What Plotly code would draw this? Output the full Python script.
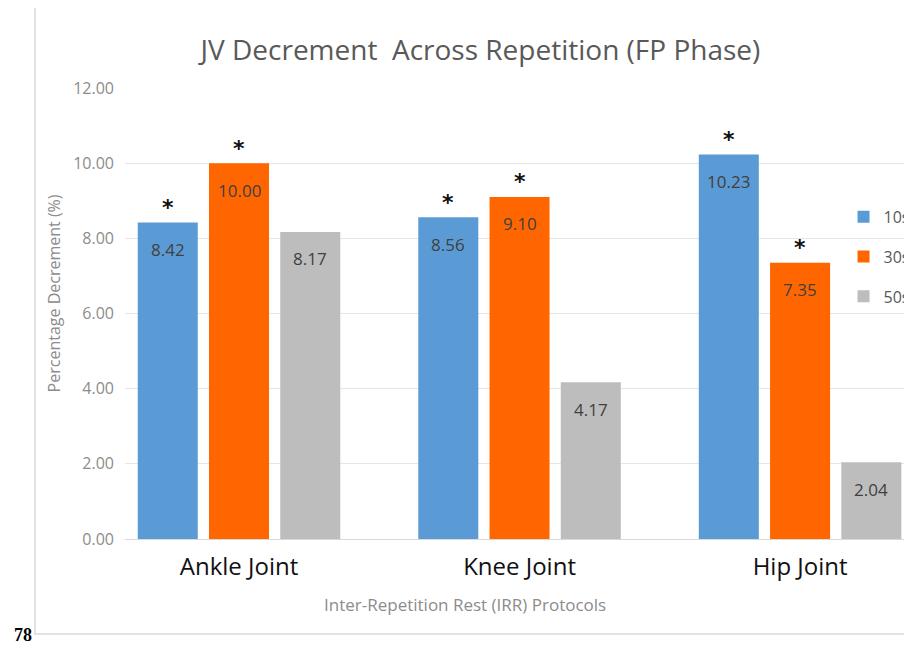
import plotly.graph_objects as go

categories = ["Ankle Joint", "Knee Joint", "Hip Joint"]
series_names = ["10s", "30s", "50s"]
values_10 = [8.42, 8.56, 10.23]
values_30 = [10.00, 9.10, 7.35]
values_50 = [8.17, 4.17, 2.04]
significant_10 = [True, True, True]
significant_30 = [True, True, True]
significant_50 = [False, False, False]
y_ticks = [0, 2, 4, 6, 8, 10, 12]

colors = ["#5B9BD5", "#FF6600", "#BDBDBD"]
offsets = [-0.254, 0.0, 0.254]
bar_width = 0.214

all_values = [values_10, values_30, values_50]
all_sig = [significant_10, significant_30, significant_50]

fig = go.Figure()
annotations = []
for k, (name, vals, sig) in enumerate(zip(series_names, all_values, all_sig)):
    xs = [i + offsets[k] for i in range(len(categories))]
    fig.add_trace(go.Bar(
        x=xs, y=vals, width=bar_width, name=name,
        marker=dict(color=colors[k], line=dict(width=0)),
        legendgroup=name, hoverinfo="y",
    ))
    for x, v, s in zip(xs, vals, sig):
        annotations.append(dict(
            x=x, y=v, xref="x", yref="y", text=f"{v:.2f}", showarrow=False,
            yshift=-27, font=dict(family="Open Sans", size=17, color="#404040"),
        ))
        if s:
            annotations.append(dict(
                x=x, y=v, xref="x", yref="y", text="<b>*</b>", showarrow=False,
                yshift=15, font=dict(family="DejaVu Sans", size=22, color="#111111"),
            ))

# page number outside the chart frame
annotations.append(dict(
    x=-0.1436, y=-0.213, xref="paper", yref="paper", text="<b>78</b>",
    showarrow=False, xanchor="left", yanchor="middle",
    font=dict(family="Liberation Serif", size=18, color="#000000"),
))
# axis titles
annotations.append(dict(
    x=0.432, y=-0.146, xref="paper", yref="paper",
    text="Inter-Repetition Rest (IRR) Protocols", showarrow=False,
    xanchor="center", yanchor="middle",
    font=dict(family="Open Sans", size=17, color="#8C8C8C"),
))
annotations.append(dict(
    x=-0.090, y=0.545, xref="paper", yref="paper",
    text="Percentage Decrement (%)", showarrow=False, textangle=-90,
    xanchor="center", yanchor="middle",
    font=dict(family="Open Sans", size=16, color="#8C8C8C"),
))

fig.update_layout(
    width=912, height=637,
    paper_bgcolor="white", plot_bgcolor="white",
    margin=dict(l=117, r=8, t=80, b=106, autoexpand=False),
    title=dict(text="JV Decrement  Across Repetition (FP Phase)", x=0.518, xanchor="center",
               y=0.934, yanchor="middle",
               font=dict(family="Open Sans", size=28, color="#595959")),
    barmode="overlay",
    showlegend=True,
    legend=dict(x=0.913, y=0.752, xanchor="left", yanchor="top",
                bgcolor="rgba(0,0,0,0)", tracegroupgap=16,
                font=dict(family="Open Sans", size=16, color="#595959")),
    xaxis=dict(
        range=[-0.4064, 2.399], tickmode="array", tickvals=list(range(len(categories))),
        ticktext=categories, showgrid=False, zeroline=False,
        showline=True, linecolor="#D9D9D9", linewidth=1, ticks="",
        ticklabelstandoff=6,
        tickfont=dict(family="Open Sans", size=24, color="#111111"),
    ),
    yaxis=dict(
        range=[0, 12], tickvals=y_ticks, tickformat=".2f",
        showgrid=True, gridcolor="#E6E6E6", gridwidth=1, zeroline=False,
        showline=False, ticks="", ticklabelstandoff=10,
        tickfont=dict(family="Open Sans", size=16, color="#8C8C8C"),
    ),
    annotations=annotations,
    shapes=[dict(type="rect", xref="paper", yref="paper",
                 x0=-0.1144, x1=1.2, y0=-0.2106, y1=1.18,
                 line=dict(color="#D9D9D9", width=1.5), fillcolor="rgba(0,0,0,0)",
                 layer="below")],
)

fig.write_html("out.html")
